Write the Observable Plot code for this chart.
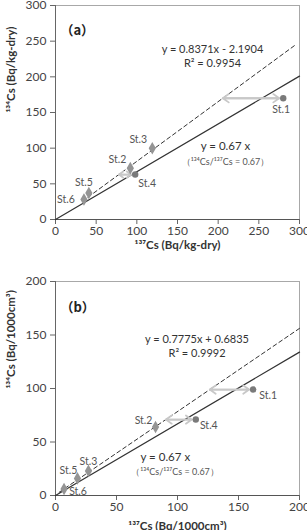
<!DOCTYPE html>
<html><head><meta charset="utf-8">
<script src="https://cdn.jsdelivr.net/npm/d3@7"></script>
<script src="https://cdn.jsdelivr.net/npm/@observablehq/plot@0.6"></script>
<style>body{margin:0;background:#fff;} #c svg{display:block;overflow:hidden;}</style>
</head><body><div id="c"></div>
<script>
// ---- data ----
const stations = ["St.1","St.2","St.3","St.4","St.5","St.6"];
const markers  = ["circle","diamond","diamond","circle","diamond","diamond"];
const cs137_a = [280, 92, 119, 98, 41, 35];
const cs134_a = [170, 72, 100, 63, 37, 28];
const cs137_b = [162, 82, 27, 115, 18, 7];
const cs134_b = [99, 64, 23, 71, 16, 6];
const fitA = {slope: 0.8371, intercept: -2.1904, r2: "0.9954", eq: "y = 0.8371x - 2.1904"};
const fitB = {slope: 0.7775, intercept: 0.6835, r2: "0.9992", eq: "y = 0.7775x + 0.6835"};
const ratio = 0.67;
const ticksA = [0, 50, 100, 150, 200, 250, 300];
const ticksB = [0, 50, 100, 150, 200];

// ---- layout ----
const FONT = "Lato, 'Open Sans', sans-serif";
const offA = {"St.1":[-2,11],"St.2":[-13,-9],"St.3":[-14,-9],"St.4":[12,9],"St.5":[-5,-10],"St.6":[-18,0]};
const offB = {"St.1":[15,6],"St.2":[-12,-6],"St.3":[0,-9],"St.4":[13,6],"St.5":[-9,-8],"St.6":[14,3]};

function panel(cfg) {
  const data = stations.map((s, i) => ({s, x: cfg.x[i], y: cfg.y[i], m: markers[i]}));
  const outl = data.filter(d => d.m === "circle")
    .map(d => ({...d, xf: (d.y - cfg.fit.intercept) / cfg.fit.slope}));
  const max = cfg.ticks[cfg.ticks.length - 1];
  const ratioLine = [{x: 0, y: 0}, {x: max, y: max * ratio}];
  const fitLine = cfg.fitRange.map(x => ({x, y: cfg.fit.slope * x + cfg.fit.intercept}));
  const labelMarks = data.map(d => Plot.text([d], {
    x: "x", y: "y", text: "s", dx: cfg.off[d.s][0], dy: cfg.off[d.s][1],
    fill: "#555", fontSize: 10.5
  }));
  const a = cfg.ann;
  return Plot.plot({
    width: 307, height: cfg.height,
    marginLeft: 55, marginRight: 8, marginTop: cfg.mt, marginBottom: cfg.mb,
    x: {domain: [0, max]}, y: {domain: [0, max]},
    style: {fontFamily: FONT, fontSize: "12px", color: "#444", background: "#fff", overflow: "hidden"},
    marks: [
      Plot.frame({stroke: "#a8a8a8"}),
      Plot.axisY(cfg.ticks, {tickSize: 5, tickPadding: 4, label: null, stroke: "#666", fill: "#444", fontSize: 12}),
      Plot.axisX(cfg.ticks, {tickSize: 5, tickPadding: 2, label: null, stroke: "#666", fill: "#444", fontSize: 12}),
      Plot.ruleX([0], {stroke: "#666"}),
      Plot.ruleY([0], {stroke: "#555"}),
      Plot.line(ratioLine, {x: "x", y: "y", stroke: "#333", strokeWidth: 1.2}),
      Plot.line(fitLine, {x: "x", y: "y", stroke: "#333", strokeWidth: 1, strokeDasharray: "4,3"}),
      Plot.arrow(outl, {x1: "x", x2: "xf", y1: "y", y2: "y", stroke: "#c8c8c8", strokeWidth: 1.8, headLength: 6, headAngle: 70, insetStart: 4}),
      Plot.arrow(outl, {x1: "xf", x2: "x", y1: "y", y2: "y", stroke: "#c8c8c8", strokeWidth: 1.8, headLength: 6, headAngle: 70, insetEnd: 4}),
      Plot.dot(data.filter(d => d.m === "diamond"), {x: "x", y: "y", symbol: "diamond", r: 3.8, fill: "#949494"}),
      Plot.dot(data.filter(d => d.m === "circle"), {x: "x", y: "y", r: 3.2, fill: "#7a7a7a"}),
      ...labelMarks,
      Plot.text([a.tag], {x: a.tag.x, y: a.tag.y, text: d => d.t, textAnchor: "start", fontWeight: "bold", fontSize: 13, fill: "#222", fontFamily: "'Noto Sans CJK JP', sans-serif"}),
      Plot.text([cfg.fit.eq], {x: a.eq.x, y: a.eq.y, text: d => d, fontSize: 11, fill: "#333"}),
      Plot.text(["R² = " + cfg.fit.r2], {x: a.eq.x, y: a.r2y, text: d => d, fontSize: 11, fill: "#333"}),
      Plot.text(["y = " + ratio + " x"], {x: a.rt.x, y: a.rt.y, text: d => d, fontSize: 11.5, fill: "#333"}),
      Plot.text(["（¹³⁴Cs/¹³⁷Cs = " + ratio + "）"], {x: a.rr.x, y: a.rr.y, text: d => d, fontSize: 9, fill: "#555"}),
      Plot.text([cfg.xTitle], {frameAnchor: "bottom", dy: cfg.xTitleDy, lineAnchor: "middle", text: d => d, fontWeight: "bold", fontSize: 11.5, fill: "#333"}),
      Plot.text([cfg.yTitle], {frameAnchor: "left", dx: -44, rotate: -90, lineAnchor: "middle", text: d => d, fontWeight: "bold", fontSize: 11.5, fill: "#333"})
    ]
  });
}

const c = document.getElementById("c");
c.appendChild(panel({
  x: cs137_a, y: cs134_a, fit: fitA, ticks: ticksA, off: offA,
  height: 258, mt: 5, mb: 39, fitRange: [33, 296],
  xTitle: "¹³⁷Cs (Bq/kg-dry)", yTitle: "¹³⁴Cs (Bq/kg-dry)", xTitleDy: 26,
  ann: {tag: {t: "（a）", x: 6, y: 265}, eq: {x: 193, y: 238}, r2y: 219, rt: {x: 209, y: 102}, rr: {x: 209, y: 80}}
}));
c.appendChild(panel({
  x: cs137_b, y: cs134_b, fit: fitB, ticks: ticksB, off: offB,
  height: 272, mt: 23, mb: 35, fitRange: [3, 200],
  xTitle: "¹³⁷Cs (Bq/1000cm³)", yTitle: "¹³⁴Cs (Bq/1000cm³)", xTitleDy: 31,
  ann: {tag: {t: "（b）", x: 4, y: 175}, eq: {x: 116, y: 146}, r2y: 133, rt: {x: 90, y: 35.5}, rr: {x: 98, y: 21.5}}
}));
</script></body></html>
